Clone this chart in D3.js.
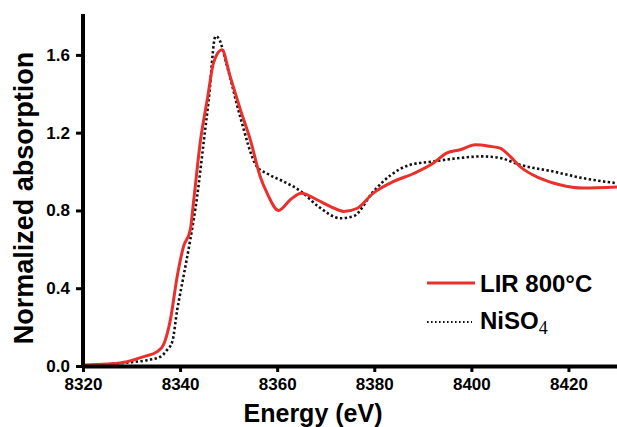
<!DOCTYPE html>
<html>
<head>
<meta charset="utf-8">
<script src="https://cdn.jsdelivr.net/npm/d3@7"></script>
<style>
  body { margin: 0; background: #fff; }
  svg text { font-family: "Liberation Sans", Arial, sans-serif; font-weight: bold; fill: #000; }
</style>
</head>
<body>
<div id="chart"></div>
<script>
// LIR 800°C spectrum
const lirEnergy = [8320, 8325, 8329.1, 8332.5, 8335.3, 8336.6, 8338, 8339.4, 8340.7, 8342.1, 8342.8,
  8344.2, 8345.6, 8346.9, 8348.6, 8350.3, 8352.4, 8354.5, 8356.5, 8357.9, 8360.3, 8362.7, 8365,
  8368.2, 8371, 8373.7, 8376.4, 8379.8, 8384, 8388.1, 8392.2, 8394.9, 8397.7, 8400.8, 8403.8,
  8405.9, 8408, 8410, 8414.1, 8418.2, 8423, 8430];
const lirAbs = [0.005, 0.01, 0.022, 0.048, 0.074, 0.11, 0.237, 0.46, 0.614, 0.70, 0.85,
  1.16, 1.37, 1.56, 1.627, 1.49, 1.32, 1.16, 0.975, 0.89, 0.80, 0.855, 0.889,
  0.855, 0.82, 0.795, 0.81, 0.889, 0.949, 0.99, 1.044, 1.095, 1.112, 1.138, 1.13,
  1.12, 1.078, 1.026, 0.966, 0.932, 0.915, 0.92];

// NiSO4 reference spectrum
const nisoEnergy = [8320, 8325, 8329, 8333.2, 8336, 8337.3, 8338.4, 8339.4, 8340.7, 8342.1, 8343.5,
  8344.9, 8345.9, 8347.3, 8347.9, 8349.7, 8352.4, 8355.8, 8357.9, 8361.3, 8364.8, 8368.5, 8373,
  8375.7, 8379.8, 8383.3, 8387.4, 8392.2, 8397.7, 8402.1, 8405.9, 8410, 8416.9, 8423, 8430];
const nisoAbs = [0.003, 0.008, 0.017, 0.03, 0.048, 0.082, 0.125, 0.288, 0.46, 0.65, 0.87,
  1.16, 1.37, 1.696, 1.687, 1.54, 1.28, 1.026, 0.99, 0.949, 0.9, 0.82, 0.76,
  0.77, 0.897, 0.98, 1.035, 1.052, 1.07, 1.078, 1.07, 1.035, 1.0, 0.966, 0.94];

const xTicks = [8320, 8340, 8360, 8380, 8400, 8420];
const yTicks = [0.0, 0.4, 0.8, 1.2, 1.6];

const width = 617, height = 427;
const margin = { top: 16, right: 0, bottom: 61, left: 83 };

const svg = d3.select('#chart').append('svg')
  .attr('width', width)
  .attr('height', height);

const xScale = d3.scaleLinear()
  .domain([8320, 8430])
  .range([margin.left, width - margin.right]);

const yScale = d3.scaleLinear()
  .domain([0, 1.8])
  .range([height - margin.bottom, margin.top]);

// curves
const line = d3.line()
  .x(d => xScale(d[0]))
  .y(d => yScale(d[1]))
  .curve(d3.curveMonotoneX);

const lirData = lirEnergy.map((e, i) => [e, lirAbs[i]]);
const nisoData = nisoEnergy.map((e, i) => [e, nisoAbs[i]]);

svg.append('path')
  .datum(nisoData)
  .attr('fill', 'none')
  .attr('stroke', '#111')
  .attr('stroke-width', 2.6)
  .attr('stroke-dasharray', '2.4,2.4')
  .attr('d', line);

svg.append('path')
  .datum(lirData)
  .attr('fill', 'none')
  .attr('stroke', '#e8302c')
  .attr('stroke-width', 3)
  .attr('stroke-linejoin', 'round')
  .attr('d', line);

// axes
const xAxis = d3.axisBottom(xScale)
  .tickValues(xTicks)
  .tickFormat(d3.format('d'))
  .tickSize(6)
  .tickSizeOuter(0)
  .tickPadding(6);

const yAxis = d3.axisLeft(yScale)
  .tickValues(yTicks)
  .tickFormat(d3.format('.1f'))
  .tickSize(7)
  .tickSizeOuter(0)
  .tickPadding(6);

const xAxisG = svg.append('g')
  .attr('transform', `translate(0,${height - margin.bottom})`)
  .call(xAxis);

const yAxisG = svg.append('g')
  .attr('transform', `translate(${margin.left},0)`)
  .call(yAxis);

[xAxisG, yAxisG].forEach(g => {
  g.select('.domain').attr('stroke', '#000').attr('stroke-width', 4);
  g.selectAll('.tick line').attr('stroke', '#000').attr('stroke-width', 3);
  g.selectAll('.tick text')
    .attr('font-size', 17)
    .attr('font-family', '"Liberation Sans", Arial, sans-serif')
    .attr('font-weight', 'bold')
    .attr('fill', '#000');
});
// extend y axis line down to cover the corner
yAxisG.select('.domain').attr('d', `M0,${margin.top - 2}V${height - margin.bottom + 2}`);

// axis titles
svg.append('text')
  .attr('x', (margin.left + width) / 2 - 37)
  .attr('y', 422)
  .attr('text-anchor', 'middle')
  .attr('font-size', 25)
  .text('Energy (eV)');

svg.append('text')
  .attr('transform', `translate(33,198) rotate(-90)`)
  .attr('text-anchor', 'middle')
  .attr('font-size', 27)
  .text('Normalized absorption');

// legend
const legend = svg.append('g');
legend.append('line')
  .attr('x1', 427).attr('x2', 475)
  .attr('y1', 283).attr('y2', 283)
  .attr('stroke', '#e8302c')
  .attr('stroke-width', 3);
legend.append('text')
  .attr('x', 480).attr('y', 292)
  .attr('font-size', 24)
  .text('LIR 800°C');

legend.append('line')
  .attr('x1', 427).attr('x2', 472)
  .attr('y1', 322).attr('y2', 322)
  .attr('stroke', '#111')
  .attr('stroke-width', 2)
  .attr('stroke-dasharray', '1.6,2.4');
const nisoLabel = legend.append('text')
  .attr('x', 480).attr('y', 329)
  .attr('font-size', 24)
  .text('NiSO');
nisoLabel.append('tspan')
  .attr('dy', 5)
  .attr('font-size', 18)
  .attr('font-weight', 'normal')
  .attr('font-family', '"Liberation Serif", "DejaVu Serif", serif')
  .text('4');
</script>
</body>
</html>
